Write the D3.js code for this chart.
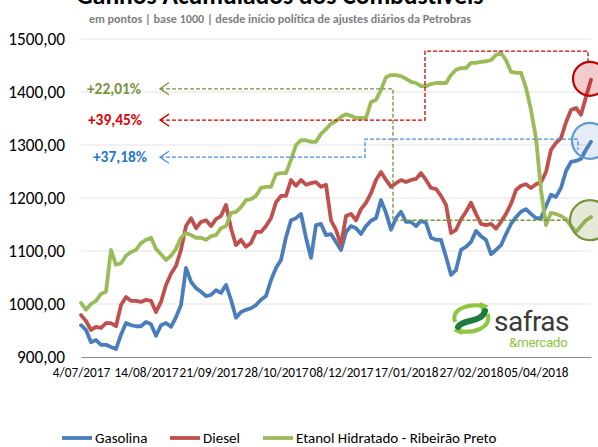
<!DOCTYPE html>
<html>
<head>
<meta charset="utf-8">
<script src="https://cdn.jsdelivr.net/npm/d3@7"></script>
<style>
  body { margin: 0; background: #fff; }
  svg { font-family: Carlito, Lato, sans-serif; }
</style>
</head>
<body>
<div id="chart"></div>
<script>
// tick labels of the category axis (every 13th trading day)
const tickLabels = ["4/07/2017", "14/08/2017", "21/09/2017", "28/10/2017",
                    "08/12/2017", "17/01/2018", "27/02/2018", "05/04/2018"];
const tickIdx = [0, 13, 26, 39, 52, 65, 78, 91];

const yTicks = [900, 1000, 1100, 1200, 1300, 1400, 1500];

// series, in points (base 1000)
const gasolina = [960,951,928,932,923,923,919,915,942,964,
  960,958,958,966,962,940,960,964,957,975,
  998,1068,1042,1030,1023,1015,1017,1026,1021,1036,
  1008,974,985,989,992,998,1008,1015,1045,1068,
  1083,1126,1158,1162,1170,1125,1087,1149,1151,1130,
  1132,1117,1102,1136,1147,1143,1132,1147,1157,1162,
  1196,1172,1140,1162,1174,1155,1155,1147,1157,1153,
  1125,1121,1121,1089,1055,1064,1102,1108,1117,1138,
  1128,1121,1094,1102,1111,1132,1151,1164,1174,1179,
  1170,1162,1162,1185,1206,1202,1219,1251,1268,1270,
  1274,1291,1306];

const diesel = [979,968,951,957,955,964,964,958,998,1013,
  1006,1006,1004,1008,1006,985,1004,1036,1057,1072,
  1102,1147,1162,1143,1155,1158,1147,1160,1166,1187,
  1143,1111,1121,1108,1115,1136,1136,1147,1162,1192,
  1204,1204,1234,1223,1234,1225,1228,1230,1221,1225,
  1158,1140,1111,1166,1170,1158,1179,1191,1209,1234,
  1249,1234,1221,1228,1234,1230,1234,1236,1247,1234,
  1219,1217,1204,1187,1134,1140,1160,1174,1191,1170,
  1151,1149,1151,1142,1155,1170,1189,1215,1223,1226,
  1219,1226,1230,1249,1291,1304,1313,1343,1366,1370,
  1357,1391,1423];

const etanol = [1002,989,1000,1006,1019,1023,1102,1074,1077,1091,
  1098,1102,1115,1121,1125,1104,1094,1083,1091,1104,
  1125,1134,1130,1125,1125,1121,1128,1130,1143,1147,
  1172,1174,1183,1196,1198,1204,1219,1221,1221,1245,
  1247,1247,1272,1300,1309,1309,1306,1306,1321,1330,
  1340,1345,1353,1358,1355,1351,1351,1351,1381,1385,
  1404,1428,1432,1432,1430,1425,1419,1417,1411,1411,
  1415,1417,1417,1417,1432,1442,1445,1445,1455,1455,
  1457,1458,1460,1470,1474,1460,1438,1436,1436,1408,
  1366,1313,1215,1149,1172,1170,1166,1160,1147,1136,
  1147,1158,1164];

const seriesNames = ["Gasolina", "Diesel", "Etanol Hidratado - Ribeirão Preto"];
const seriesColors = ["#4a7ebb", "#c0504d", "#9bbb59"];

// gain call-outs (label, dashed path in [index, points])
const gainLabels = ["+22,01%", "+39,45%", "+37,18%"];
const gainColors = ["#77933c", "#e00000", "#1f78c8"];
const gainDash = ["#77933c", "#d00000", "#4a8fd8"];
const gainPaths = [
  [[15.8, 1406], [62.4, 1406], [62.4, 1158], [97.8, 1158]],
  [[15.8, 1347], [68.8, 1347], [68.8, 1477], [101.4, 1477], [101.4, 1457]],
  [[15.8, 1277], [56.8, 1277], [56.8, 1311], [99.4, 1311], [99.4, 1291]]
];
const gainGap = [19, 18, 13];

const width = 598, height = 447;
const margin = {top: 39, right: 7, bottom: 90, left: 81};

const svg = d3.select("#chart").append("svg")
    .attr("width", width)
    .attr("height", height);

const x = d3.scaleLinear()
    .domain([0, gasolina.length - 1])
    .range([margin.left, width - margin.right]);

const y = d3.scaleLinear()
    .domain([900, 1500])
    .range([height - margin.bottom, margin.top]);

// title (cut at top as in the source image) + subtitle
svg.append("text")
    .attr("x", 280).attr("y", 4)
    .attr("text-anchor", "middle")
    .attr("font-size", 25.5).attr("font-weight", "bold")
    .attr("fill", "#000")
    .text("Ganhos Acumulados dos Combustíveis");

svg.append("text")
    .attr("x", 280).attr("y", 22.5)
    .attr("text-anchor", "middle")
    .attr("font-size", 12.1).attr("font-weight", "bold")
    .attr("fill", "#7f7f7f")
    .text("em pontos | base 1000 | desde  início política de ajustes diários da Petrobras");

// gridlines
svg.append("g")
  .selectAll("line")
  .data(yTicks.slice(1))
  .enter().append("line")
    .attr("x1", x(0)).attr("x2", x(gasolina.length - 1))
    .attr("y1", d => y(d)).attr("y2", d => y(d))
    .attr("stroke", "#ececec")
    .attr("stroke-width", 1.5);

// y axis
const yAxis = svg.append("g")
    .attr("transform", `translate(${margin.left},0)`)
    .call(d3.axisLeft(y).tickValues(yTicks).tickSize(0).tickPadding(16)
          .tickFormat(d => d3.format(".2f")(d).replace(".", ",")));
yAxis.select(".domain").remove();
yAxis.selectAll("text")
    .attr("font-family", "Carlito, Lato, sans-serif")
    .attr("font-size", 17.3).attr("fill", "#000");

// x axis
const xAxis = svg.append("g")
    .attr("transform", `translate(0,${y(900)})`)
    .call(d3.axisBottom(x).tickValues(tickIdx).tickSize(0).tickSizeOuter(0).tickPadding(11)
          .tickFormat((d, i) => tickLabels[i]));
xAxis.select(".domain").attr("stroke", "#8c8c8c");
xAxis.selectAll("text")
    .attr("font-family", "Carlito, Lato, sans-serif")
    .attr("font-size", 13.3).attr("fill", "#000");

// lines
const line = d3.line()
    .x((d, i) => x(i))
    .y(d => y(d));

[gasolina, diesel, etanol].forEach((s, k) => {
  svg.append("path")
      .datum(s)
      .attr("fill", "none")
      .attr("stroke", seriesColors[k])
      .attr("stroke-width", 3.8)
      .attr("stroke-linejoin", "round")
      .attr("stroke-linecap", "round")
      .attr("d", line);
});

// dashed call-outs
const pathLine = d3.line().x(d => x(d[0])).y(d => y(d[1]));
gainPaths.forEach((p, k) => {
  svg.append("path")
      .attr("d", pathLine(p))
      .attr("fill", "none")
      .attr("stroke", gainDash[k])
      .attr("stroke-width", 1.3)
      .attr("stroke-dasharray", "4,2");
  // open arrow head at the left end
  const ax = x(p[0][0]), ay = y(p[0][1]);
  svg.append("polyline")
      .attr("points", `${ax + 9},${ay - 6} ${ax},${ay} ${ax + 9},${ay + 6}`)
      .attr("fill", "none")
      .attr("stroke", gainDash[k])
      .attr("stroke-width", 1.3);
  svg.append("text")
      .attr("x", ax - gainGap[k]).attr("y", ay)
      .attr("dy", "0.33em")
      .attr("text-anchor", "end")
      .attr("font-size", 15.4).attr("font-weight", "bold")
      .attr("fill", gainColors[k])
      .text(gainLabels[k]);
});

// circles round the last points
const circleFill = ["rgba(79,129,189,0.15)", "rgba(192,0,0,0.2)", "rgba(119,147,60,0.2)"];
const circleStroke = ["#5b9bd5", "#c00000", "#77933c"];
const circleR = [18, 17, 20];
[gasolina, diesel, etanol].forEach((s, k) => {
  const last = s.length - 1;
  svg.append("circle")
      .attr("cx", x(last) - 1)
      .attr("cy", y(s[last]) + (k === 2 ? 3 : -1))
      .attr("r", circleR[k])
      .attr("fill", circleFill[k])
      .attr("stroke", circleStroke[k])
      .attr("stroke-width", 2.2);
});

// legend
const legendX = [62, 170, 263];
const legend = svg.append("g").attr("transform", "translate(0,438)");
seriesNames.forEach((n, k) => {
  legend.append("line")
      .attr("x1", legendX[k]).attr("x2", legendX[k] + 30)
      .attr("stroke", seriesColors[k]).attr("stroke-width", 3.8);
  legend.append("text")
      .attr("x", legendX[k] + 33).attr("y", 0)
      .attr("dy", "0.35em")
      .attr("font-size", 15).attr("fill", "#000")
      .text(n);
});

// safras & mercado logo
const logo = svg.append("g");
logo.append("path")
    .attr("d", "M455,322 C451,309 468,303 484,306")
    .attr("fill", "none").attr("stroke", "#8dc63f").attr("stroke-width", 4);
logo.append("path")
    .attr("d", "M480,302 L489,306 L481,311 Z").attr("fill", "#8dc63f");
logo.append("path")
    .attr("d", "M488,314 C491,328 474,334 458,331")
    .attr("fill", "none").attr("stroke", "#8dc63f").attr("stroke-width", 4);
logo.append("path")
    .attr("d", "M462,335 L453,331 L461,326 Z").attr("fill", "#8dc63f");
logo.append("path")
    .attr("d", "M458,327 C462,319 482,323 485,311")
    .attr("fill", "none").attr("stroke", "#1e7b3d").attr("stroke-width", 6)
    .attr("stroke-linecap", "round");
logo.append("text")
    .attr("x", 494).attr("y", 331)
    .attr("font-family", "Roboto, sans-serif")
    .attr("font-size", 28).attr("fill", "#3a3a3a")
    .attr("letter-spacing", -0.5)
    .text("safras");
logo.append("text")
    .attr("x", 509).attr("y", 347)
    .attr("font-family", "Roboto, sans-serif")
    .attr("font-size", 13.5).attr("fill", "#8dc63f")
    .attr("letter-spacing", -0.4)
    .text("&mercado");
</script>
</body>
</html>
